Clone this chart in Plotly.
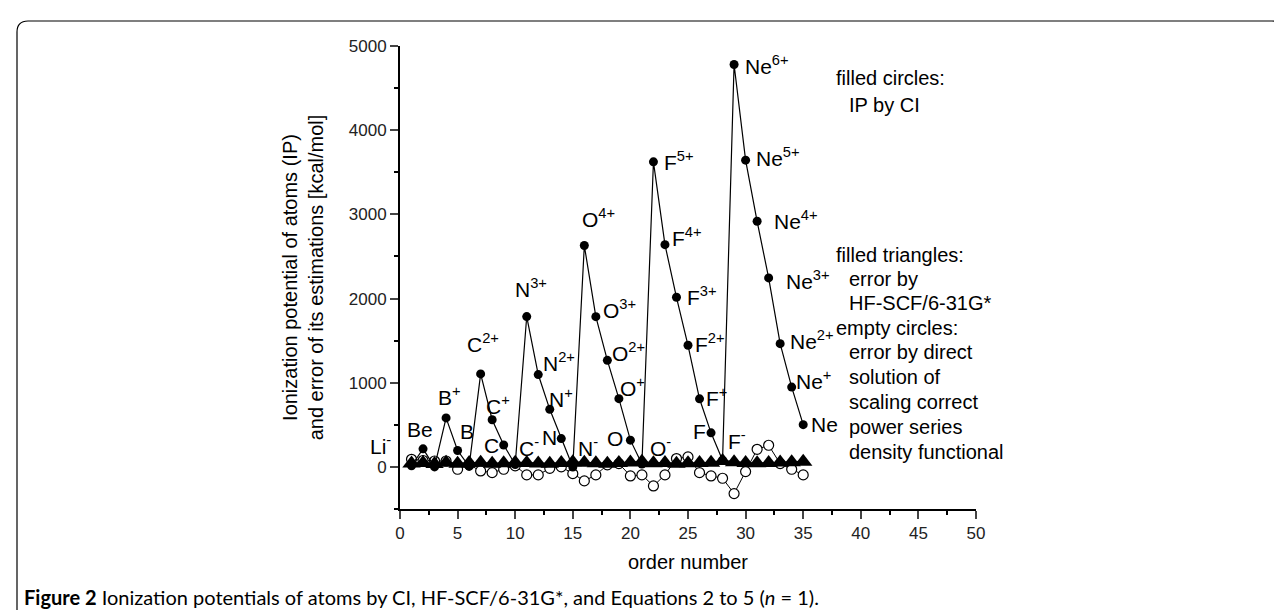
import plotly.graph_objects as go

# ---------------- data ----------------
order = list(range(1, 36))
species = ["Li<sup>-</sup>", "Be", "", "B<sup>+</sup>", "B", "", "C<sup>2+</sup>", "C<sup>+</sup>", "C", "C<sup>-</sup>",
           "N<sup>3+</sup>", "N<sup>2+</sup>", "N<sup>+</sup>", "N", "N<sup>-</sup>",
           "O<sup>4+</sup>", "O<sup>3+</sup>", "O<sup>2+</sup>", "O<sup>+</sup>", "O", "O<sup>-</sup>",
           "F<sup>5+</sup>", "F<sup>4+</sup>", "F<sup>3+</sup>", "F<sup>2+</sup>", "F<sup>+</sup>", "F", "F<sup>-</sup>",
           "Ne<sup>6+</sup>", "Ne<sup>5+</sup>", "Ne<sup>4+</sup>", "Ne<sup>3+</sup>", "Ne<sup>2+</sup>", "Ne<sup>+</sup>", "Ne"]
ip_ci = [14, 215, 0, 582, 195, 6, 1105, 560, 260, 29,
         1786, 1097, 684, 336, -2,
         2630, 1785, 1266, 811, 318, 34,
         3624, 2640, 2015, 1445, 809, 405, 78,
         4780, 3644, 2918, 2245, 1464, 948, 502]
err_hf = [40, 45, 35, 50, 38, 45, 50, 38, 42, 50,
          45, 40, 38, 45, 55,
          50, 42, 38, 45, 52, 60,
          42, 45, 38, 42, 45, 50, 70,
          55, 45, 42, 45, 52, 55, 60]
err_direct = [90, 76, 70, 70, -28, 27, -48, -68, -28, 12,
              -95, -95, -17, 0, -80,
              -166, -95, 24, 39, -107, -95,
              -226, -95, 99, 119, -68, -107, -135,
              -317, -56, 209, 257, 39, -28, -95]

# label offsets (pixels) relative to each filled circle: (dx, dy) with dy positive = up
label_off = [(-31, 21), (-3, 19), (0, 0), (3, 22), (9, 19), (0, 0), (2, 31), (6, 15), (-12, 0), (14, 17),
             (4, 29), (21, 13), (11, 11), (-12, 1), (15, 20),
             (14, 28), (24, 8), (21, 8), (14, 12), (-15, 2), (19, 17),
             (26, 1), (22, 8), (26, 1), (22, 2), (17, 2), (-12, 1), (14, 20),
             (33, 0), (32, 3), (39, 1), (39, -2), (32, 4), (22, 7), (21, 0)]

W, H = 1282, 610
L, R, T, B = 392, 968, 38, 501


def px(x):
    return (x - L) / (R - L)


def py(y):
    return (B - y) / (B - T)


FONT = "Arial, Liberation Sans, sans-serif"

fig = go.Figure()
fig.add_trace(go.Scatter(x=order, y=err_direct, mode="lines+markers",
                         line=dict(color="black", width=1),
                         marker=dict(symbol="circle", size=10, color="white",
                                     line=dict(color="black", width=1.2)),
                         showlegend=False, hoverinfo="skip"))
fig.add_trace(go.Scatter(x=order, y=err_hf, mode="lines+markers",
                         line=dict(color="black", width=2),
                         marker=dict(symbol="triangle-up", size=16, color="black"),
                         showlegend=False, hoverinfo="skip"))
fig.add_trace(go.Scatter(x=order, y=ip_ci, mode="lines+markers",
                         line=dict(color="black", width=1.2),
                         marker=dict(symbol="circle", size=9, color="black"),
                         showlegend=False, hoverinfo="skip"))

for xi, yi, lab, (dx, dy) in zip(order, ip_ci, species, label_off):
    if not lab:
        continue
    fig.add_annotation(x=xi, y=yi, xref="x", yref="y", text=lab, showarrow=False,
                       xshift=dx, yshift=dy, font=dict(family=FONT, size=21, color="black"))

notes = [
    ("filled circles:", 826, 70, 0),
    ("IP by CI", 826, 97, 1),
    ("filled triangles:", 826, 247, 0),
    ("error by", 826, 271, 1),
    ("HF-SCF/6-31G*", 826, 295, 1),
    ("empty circles:", 826, 320, 0),
    ("error by direct", 826, 344, 1),
    ("solution of", 826, 369, 1),
    ("scaling correct", 826, 394, 1),
    ("power series", 826, 419, 1),
    ("density functional", 826, 444, 1),
]
for txt, x0, y0, ind in notes:
    fig.add_annotation(x=px(x0 + 13 * ind), y=py(y0), xref="paper", yref="paper", text=txt,
                       showarrow=False, xanchor="left", yanchor="middle",
                       font=dict(family=FONT, size=20, color="black"))

# caption
fig.add_annotation(x=px(14), y=py(589), xref="paper", yref="paper", xanchor="left", yanchor="middle",
                   showarrow=False,
                   text="<b>Figure 2</b> Ionization potentials of atoms by CI, HF-SCF/6-31G*, and Equations 2 to 5 (<i>n</i> = 1).",
                   font=dict(family="Lato, sans-serif", size=20, color="black"))

# outer rounded frame (open at the bottom edge of the image)
rr = 11
fig.add_shape(type="path", xref="paper", yref="paper",
              path=(f"M {px(9)},{py(615)} L {px(9)},{py(13 + rr)} Q {px(9)},{py(13)} {px(9 + rr)},{py(13)} "
                    f"L {px(1275 - rr)},{py(13)} Q {px(1275)},{py(13)} {px(1275)},{py(13 + rr)} L {px(1275)},{py(615)}"),
              line=dict(color="black", width=1.2), layer="below")

fig.update_layout(
    width=W, height=H,
    margin=dict(l=L, r=W - R, t=T, b=H - B),
    paper_bgcolor="white", plot_bgcolor="white",
    font=dict(family=FONT, size=17, color="black"),
    xaxis=dict(range=[0, 50], tick0=0, dtick=5, ticks="outside", ticklen=8, tickwidth=2,
               showline=True, linewidth=2, linecolor="black", showgrid=False, zeroline=False,
               tickfont=dict(size=17, color="#222"),
               minor=dict(ticks="outside", ticklen=4, tickwidth=2, dtick=2.5, tick0=0, tickcolor="black"),
               title=dict(text="order number", font=dict(size=20), standoff=13)),
    yaxis=dict(range=[-500, 5000], tick0=0, dtick=1000, ticks="outside", ticklen=8, tickwidth=2,
               showline=True, linewidth=2, linecolor="black", showgrid=False, zeroline=False,
               tickfont=dict(size=17, color="#222"),
               minor=dict(ticks="outside", ticklen=4, tickwidth=2, dtick=500, tick0=0, tickcolor="black"),
               title=dict(text="Ionization potential of atoms (IP)<br>and error of its estimations [kcal/mol]",
                          font=dict(size=20), standoff=20)),
)

fig.write_html("out.html")
